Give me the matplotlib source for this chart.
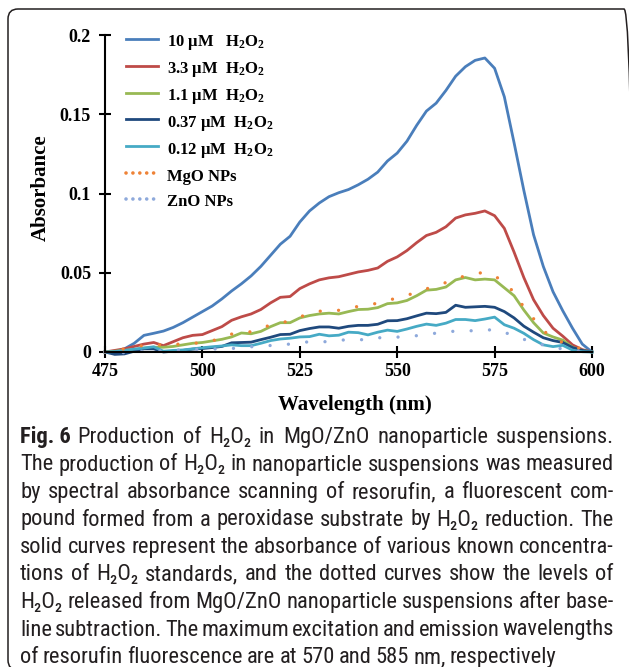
import matplotlib
matplotlib.use("Agg")
import matplotlib.pyplot as plt
from matplotlib.lines import Line2D
from matplotlib.patches import FancyBboxPatch
from matplotlib.transforms import IdentityTransform
from matplotlib.ticker import FuncFormatter

W, H = 629, 667

# spectra (absorbance vs wavelength, nm)
wavelength = [475, 477.5, 480, 482.5, 485, 487.5, 490, 492.5, 495, 497.5,
              500, 502.5, 505, 507.5, 510, 512.5, 515, 517.5, 520, 522.5,
              525, 527.5, 530, 532.5, 535, 537.5, 540, 542.5, 545, 547.5,
              550, 552.5, 555, 557.5, 560, 562.5, 565, 567.5, 570, 572.5,
              575, 577.5, 580, 582.5, 585, 587.5, 590, 592.5, 595, 597.5, 600]

h2o2_10 = [0.0, 0.0, 0.002, 0.0055, 0.0105, 0.0118, 0.0132, 0.0155, 0.0185, 0.022,
           0.0255, 0.029, 0.0335, 0.0385, 0.043, 0.048, 0.054, 0.061, 0.068, 0.073,
           0.082, 0.089, 0.094, 0.098, 0.1005, 0.1025, 0.1055, 0.109, 0.1135, 0.1205,
           0.1255, 0.133, 0.143, 0.152, 0.157, 0.165, 0.174, 0.180, 0.184, 0.1855,
           0.179, 0.161, 0.132, 0.102, 0.074, 0.054, 0.038, 0.026, 0.015, 0.005, 0.0]

h2o2_3_3 = [0.0, 0.001, 0.002, 0.0035, 0.005, 0.006, 0.004, 0.0065, 0.009, 0.0105,
            0.011, 0.0135, 0.016, 0.020, 0.0222, 0.024, 0.0268, 0.031, 0.0345, 0.035,
            0.040, 0.043, 0.0455, 0.0468, 0.0475, 0.049, 0.0505, 0.0515, 0.053, 0.0572,
            0.060, 0.064, 0.069, 0.0735, 0.0755, 0.079, 0.0845, 0.0865, 0.0875, 0.089,
            0.086, 0.078, 0.063, 0.047, 0.033, 0.023, 0.015, 0.010, 0.0045, 0.0015, 0.0]

h2o2_1_1 = [0.0, 0.0005, 0.001, 0.0015, 0.0025, 0.003, 0.003, 0.0035, 0.0045, 0.0055,
            0.006, 0.007, 0.008, 0.0095, 0.012, 0.0115, 0.013, 0.016, 0.0185, 0.0185,
            0.0215, 0.023, 0.024, 0.0245, 0.024, 0.0255, 0.0268, 0.027, 0.028, 0.0305,
            0.031, 0.0325, 0.0355, 0.039, 0.0395, 0.041, 0.0455, 0.047, 0.0455, 0.046,
            0.0455, 0.0405, 0.0355, 0.0265, 0.0185, 0.012, 0.0095, 0.0075, 0.003, 0.001, 0.0]

h2o2_0_37 = [0.0, -0.0015, -0.0012, 0.0005, 0.002, 0.002, 0.0, 0.0005, 0.001, 0.0018,
             0.0022, 0.0028, 0.0035, 0.0058, 0.006, 0.0062, 0.0078, 0.0093, 0.011, 0.0112,
             0.0135, 0.0148, 0.0158, 0.0158, 0.015, 0.0162, 0.0168, 0.0168, 0.0175, 0.0197,
             0.0198, 0.021, 0.0228, 0.0245, 0.0242, 0.025, 0.0295, 0.0282, 0.0285, 0.0288,
             0.0282, 0.0255, 0.0215, 0.0163, 0.0125, 0.009, 0.0072, 0.006, 0.0028, 0.001, 0.0]

h2o2_0_12 = [0.0, 0.0003, 0.001, 0.0018, 0.0025, 0.0033, 0.0005, 0.001, 0.0013, 0.002,
             0.0027, 0.0033, 0.0038, 0.0045, 0.004, 0.004, 0.0055, 0.0072, 0.0082, 0.0087,
             0.0095, 0.0097, 0.0112, 0.0102, 0.0106, 0.0125, 0.0122, 0.0108, 0.0125, 0.0138,
             0.013, 0.0145, 0.0162, 0.0176, 0.0168, 0.0182, 0.0205, 0.0205, 0.0198, 0.0208,
             0.022, 0.0172, 0.015, 0.0118, 0.0078, 0.0045, 0.0034, 0.0042, 0.0012, 0.0002, 0.0]

mgo_nps = [0.0, 0.001, 0.002, 0.0032, 0.0041, 0.0044, 0.0046, 0.0048, 0.0051, 0.0054,
           0.006, 0.007, 0.009, 0.0113, 0.012, 0.0128, 0.015, 0.017, 0.0182, 0.0198,
           0.0222, 0.024, 0.0257, 0.0262, 0.0263, 0.0275, 0.0288, 0.0297, 0.0308, 0.0325,
           0.0341, 0.0358, 0.0376, 0.0398, 0.042, 0.0438, 0.0463, 0.048, 0.0495, 0.0502,
           0.048, 0.044, 0.0375, 0.0283, 0.021, 0.0135, 0.0088, 0.006, 0.0038, 0.0018, 0.0]

zno_nps = [0.0, -0.0003, -0.0004, 0.0, 0.0005, 0.0007, 0.0008, 0.0011, 0.0014, 0.0016,
           0.0018, 0.0019, 0.002, 0.0022, 0.0027, 0.0033, 0.0037, 0.0041, 0.0045, 0.005,
           0.0058, 0.0065, 0.0065, 0.0065, 0.0072, 0.008, 0.0078, 0.0077, 0.0088, 0.0097,
           0.0094, 0.0096, 0.0103, 0.0111, 0.0119, 0.0126, 0.0132, 0.0134, 0.0134, 0.0137,
           0.0142, 0.0125, 0.010, 0.008, 0.0062, 0.0044, 0.003, 0.0019, 0.001, 0.0003, 0.0]

solid_series = [
    (h2o2_10, r"10 µM   $\mathbf{H_2O_2}$", "#4A7EBB"),
    (h2o2_3_3, r"3.3 µM  $\mathbf{H_2O_2}$", "#BE4B48"),
    (h2o2_1_1, r"1.1 µM  $\mathbf{H_2O_2}$", "#98B954"),
    (h2o2_0_37, r"0.37 µM  $\mathbf{H_2O_2}$", "#1F497D"),
    (h2o2_0_12, r"0.12 µM  $\mathbf{H_2O_2}$", "#46AAC5"),
]
dotted_series = [
    (mgo_nps, "MgO NPs", "#EE8236"),
    (zno_nps, "ZnO NPs", "#8EA9DB"),
]

x_ticks = [475, 500, 525, 550, 575, 600]
y_ticks = [0, 0.05, 0.1, 0.15, 0.2]

caption_lines = [
    "Production of H₂O₂ in MgO/ZnO nanoparticle suspensions.",
    "The production of H₂O₂ in nanoparticle suspensions was measured",
    "by spectral absorbance scanning of resorufin, a fluorescent com-",
    "pound formed from a peroxidase substrate by H₂O₂ reduction. The",
    "solid curves represent the absorbance of various known concentra-",
    "tions of H₂O₂ standards, and the dotted curves show the levels of",
    "H₂O₂ released from MgO/ZnO nanoparticle suspensions after base-",
    "line subtraction. The maximum excitation and emission wavelengths",
    "of resorufin fluorescence are at 570 and 585 nm, respectively",
]

SERIF = ["Liberation Serif", "DejaVu Serif"]
NARROW = ["Roboto Condensed", "Liberation Sans Narrow", "Roboto", "DejaVu Sans"]
CAPTION_COLOR = "#231F20"

plt.rcParams["font.family"] = SERIF
plt.rcParams["font.weight"] = "bold"
plt.rcParams["mathtext.fontset"] = "custom"
plt.rcParams["mathtext.bf"] = "Liberation Serif:bold"
plt.rcParams["mathtext.rm"] = "Liberation Serif"

fig = plt.figure(figsize=(W / 100, H / 100), dpi=100)

# rounded frame around the figure panel (cut off at right and bottom)
frame = FancyBboxPatch((8, -3), 626, H - 9 + 3,
                       boxstyle="round,pad=0,rounding_size=10",
                       transform=IdentityTransform(), fill=False,
                       edgecolor="#231F20", linewidth=1.1)
fig.add_artist(frame)

ax = fig.add_axes([105 / W, 1 - 352 / H, (592 - 105) / W, (352 - 35) / H])

for values, label, color in solid_series:
    ax.plot(wavelength, values, color=color, linewidth=2.0, clip_on=False)
for values, label, color in dotted_series:
    ax.plot(wavelength, values, color=color, linewidth=2.4,
            linestyle=(0, (0.01, 5.5)), dash_capstyle="round", clip_on=False)

ax.set_xlim(475, 600)
ax.set_ylim(0, 0.2)
ax.set_xticks(x_ticks)
ax.set_yticks(y_ticks)
ax.yaxis.set_major_formatter(FuncFormatter(lambda v, p: f"{v:g}"))

for side in ["top", "right"]:
    ax.spines[side].set_visible(False)
for side in ["left", "bottom"]:
    ax.spines[side].set_linewidth(1.5)
ax.tick_params(direction="inout", length=8, width=1.5, labelsize=13)
ax.tick_params(axis="x", pad=4)
ax.tick_params(axis="y", pad=6)
for lbl in ax.get_xticklabels() + ax.get_yticklabels():
    lbl.set_fontweight("bold")

ax.set_xlabel("Wavelength (nm)", fontsize=15, fontweight="bold")
ax.set_ylabel("Absorbance", fontsize=15, fontweight="bold")
ax.xaxis.set_label_coords(0.513, -0.137)
ax.yaxis.set_label_coords(-0.112, 0.519)

# legend with proxy handles so the dotted entries look denser, like the original
handles = [Line2D([], [], color=c, linewidth=2.0) for _, _, c in solid_series]
handles += [Line2D([], [], color=c, linewidth=2.6, linestyle=(0, (0.01, 1.9)),
                   dash_capstyle="round") for _, _, c in dotted_series]
labels = [lab for _, lab, _ in solid_series] + [lab for _, lab, _ in dotted_series]
fig.legend(handles, labels, loc="upper left", bbox_to_anchor=(126 / W, 1 - 31 / H),
           frameon=False, handlelength=1.9, handletextpad=0.55,
           handleheight=1.45, labelspacing=0.33, borderpad=0, borderaxespad=0,
           prop={"family": SERIF, "weight": "bold", "size": 12})

# caption, set word by word so lines are justified like the journal layout
renderer = fig.canvas.get_renderer()
left, right = 20, 614
baseline0, line_step = 443, 27.5
GAP_PX = 4.2
MIN_GAP_PX = 3.0


def caption_text(s, size, weight="normal"):
    return fig.text(0, 0, s, fontsize=size, family=NARROW, stretch="condensed",
                    weight=weight, color=CAPTION_COLOR, va="baseline")


def measure(s, size, weight="normal"):
    t = caption_text(s, size, weight)
    w = t.get_window_extent(renderer).width
    t.remove()
    return w


# pick the size at which justified lines need only ordinary word gaps,
# but never so big that a line's gaps collapse
ref_size = 14.0
fig_width = measure("Fig. 6", ref_size, "bold")
need, have, size_cap = 0.0, 0.0, 1e9
for i, line in enumerate(caption_lines[:-1]):
    words = line.split(" ")
    extra = GAP_PX * 1.6 if i == 0 else 0.0
    w = sum(measure(wd, ref_size) for wd in words) + (fig_width if i == 0 else 0.0)
    need += right - left - (len(words) - 1) * GAP_PX - extra
    have += w
    size_cap = min(size_cap, ref_size * (right - left - (len(words) - 1) * MIN_GAP_PX - extra) / w)
cap_size = min(ref_size * need / have, size_cap)

for i, line in enumerate(caption_lines):
    y = 1 - (baseline0 + i * line_step) / H
    start = left
    if i == 0:
        fig_lbl = caption_text("Fig. 6", cap_size, "bold")
        fig_lbl.set_position((left / W, y))
        start = left + fig_lbl.get_window_extent(renderer).width + GAP_PX * 1.6
    items = []
    for word in line.split(" "):
        t = caption_text(word, cap_size)
        t.set_y(y)
        items.append((t, t.get_window_extent(renderer).width))
    total = sum(wd for _, wd in items)
    if i < len(caption_lines) - 1:
        gap = (right - start - total) / (len(items) - 1)
    else:
        gap = GAP_PX
    x = start
    for t, wd in items:
        t.set_x(x / W)
        x += wd + gap

fig.savefig("out.png", dpi=100)
